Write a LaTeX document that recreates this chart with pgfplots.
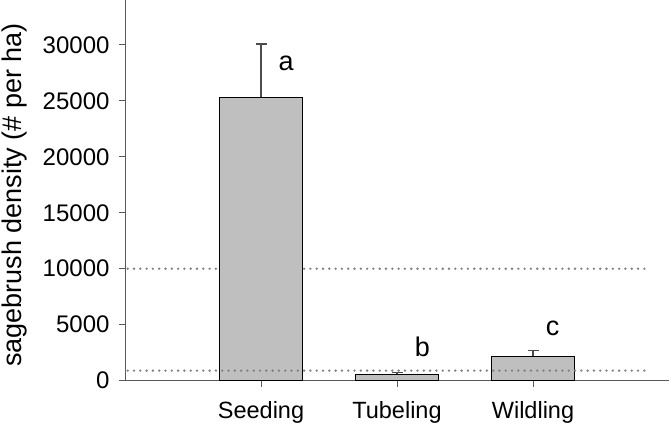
\documentclass[border=0pt]{standalone}
\usepackage{pgfplots}
\pgfplotsset{compat=1.18}
\usepackage{fontspec}
\setmainfont{Liberation Sans}
\begin{document}
\begin{tikzpicture}
\useasboundingbox (0,0) rectangle (669pt,425pt);
\begin{axis}[
  at={(125pt,44.3pt)}, anchor=south west,
  scale only axis, width=544pt, height=380.7pt,
  xmin=0, xmax=4, ymin=0, ymax=34000,
  axis x line*=bottom, axis y line*=left,
  axis line style={draw=black!65, line width=1pt},
  tick align=outside, major tick length=6pt,
  tick style={draw=black!65, line width=1pt},
  xtick={1,2,3}, xticklabels={Seeding,Tubeling,Wildling},
  ytick={0,5000,10000,15000,20000,25000,30000},
  scaled y ticks=false,
  /pgf/number format/1000 sep={},
  /pgf/number format/assume math mode=true,
  xticklabel style={font=\fontsize{23.5}{28}\selectfont, yshift=-11pt},
  yticklabel style={font=\fontsize{24}{28}\selectfont, xshift=-6pt},
  ylabel={sagebrush density (\# per ha)},
  ylabel style={font=\fontsize{27}{32}\selectfont, at={(axis description cs:-0.204,0.488)}, anchor=center},
  clip=false,
]
\addplot[draw=black!50, line width=2.6pt, line cap=round, dash pattern=on 0pt off 6.3pt] coordinates {(0.02,10000) (3.84,10000)};
\addplot[ybar, bar width=0.605, fill=black!25, draw=black, line width=0.8pt,
  error bars/.cd, y dir=plus, y explicit,
  error bar style={draw=black!70, line width=1.3pt},
  error mark options={draw=black!70, line width=1.3pt, mark size=5.5pt, rotate=90}]
  coordinates {(1,25300) +- (0,4760) (2,560) +- (0,190) (3,2200) +- (0,480)};
\addplot[draw=black!50, line width=2.6pt, line cap=round, dash pattern=on 0pt off 6.3pt] coordinates {(0.02,900) (3.84,900)};
\node[font=\fontsize{27}{32}\selectfont] at (axis cs:1.185,28370) {a};
\node[font=\fontsize{27}{32}\selectfont] at (axis cs:2.186,3050) {b};
\node[font=\fontsize{27}{32}\selectfont] at (axis cs:3.145,4680) {c};
\end{axis}
\end{tikzpicture}
\end{document}
